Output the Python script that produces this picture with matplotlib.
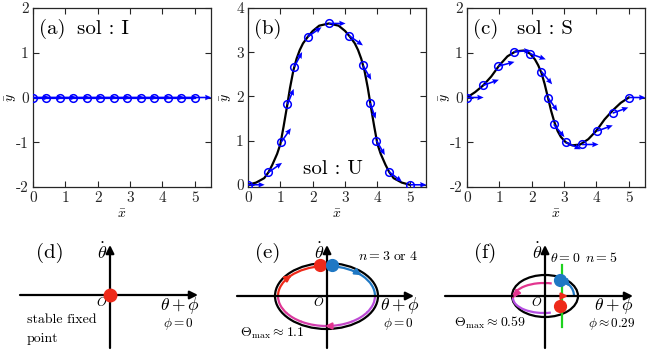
import numpy as np
import matplotlib
matplotlib.use("Agg")
import matplotlib.pyplot as plt
from matplotlib.patches import Ellipse, Arc
from matplotlib.colors import LinearSegmentedColormap
from matplotlib.ticker import FuncFormatter

plt.rcParams['mathtext.fontset'] = 'cm'
plt.rcParams['font.family'] = ['cmr10', 'DejaVu Serif']
plt.rcParams['axes.formatter.use_mathtext'] = True

# ---- data ----
# (a) sol I : straight rod
xa = [0, 0.417, 0.833, 1.25, 1.667, 2.083, 2.5, 2.917, 3.333, 3.75, 4.167, 4.583, 5.0]
ya = [0] * 13
ang_a = [0] * 13

# (b) sol U
xb_curve = [0, 0.25, 0.5, 0.63, 0.75, 0.9, 1.0, 1.1, 1.2, 1.3, 1.4, 1.5, 1.6, 1.7, 1.85, 2.0, 2.2, 2.5,
            2.8, 3.0, 3.15, 3.3, 3.4, 3.5, 3.6, 3.7, 3.8, 3.9, 4.0, 4.1, 4.25, 4.37, 4.5, 4.75, 5.0]
yb_curve = [0, 0.05, 0.15, 0.28, 0.45, 0.7, 0.92, 1.32, 1.75, 2.2, 2.58, 2.85, 3.05, 3.2, 3.35, 3.48, 3.6, 3.65,
            3.6, 3.48, 3.35, 3.2, 3.05, 2.85, 2.58, 2.2, 1.75, 1.32, 0.92, 0.7, 0.45, 0.28, 0.15, 0.05, 0]
xb = [0, 0.63, 1.03, 1.22, 1.43, 1.85, 2.5, 3.13, 3.55, 3.77, 3.97, 4.35, 5.0]
yb = [0, 0.28, 0.97, 1.82, 2.67, 3.35, 3.65, 3.37, 2.7, 1.85, 1.0, 0.3, 0.0]
ang_b = [0, 35, 55, 68, 62, 35, 0, -35, -60, -70, -60, -38, 0]

# (c) sol S
xc_curve = [0, 0.25, 0.5, 0.75, 1.0, 1.25, 1.5, 1.75, 1.95, 2.1, 2.2, 2.3, 2.4, 2.5,
            2.6, 2.7, 2.8, 2.9, 3.05, 3.25, 3.5, 3.75, 4.0, 4.25, 4.5, 4.75, 5.0]
yc_curve = [0, 0.12, 0.27, 0.47, 0.72, 0.92, 1.03, 1.05, 0.98, 0.85, 0.72, 0.55, 0.3, 0.0,
            -0.3, -0.55, -0.75, -0.88, -1.0, -1.07, -1.05, -0.93, -0.74, -0.49, -0.29, -0.12, 0]
xc = [0, 0.5, 0.97, 1.45, 1.95, 2.3, 2.5, 2.68, 3.05, 3.55, 4.02, 4.5, 5.0]
yc = [0, 0.27, 0.7, 1.02, 0.98, 0.58, 0.0, -0.6, -1.0, -1.05, -0.75, -0.35, 0.0]
ang_c = [0, 20, 15, 5, -20, -50, -55, -50, -25, 0, 20, 20, 0]

panels = [
    dict(x=xa, y=ya, ang=ang_a, cx=None, cy=None, ylim=(-2, 2), yt=[-2, -1, 0, 1, 2],
         tag='(a)', sol='sol : I', spos=(0.245, 0.885), left=33),
    dict(x=xb, y=yb, ang=ang_b, cx=xb_curve, cy=yb_curve, ylim=(-0.05, 4), yt=[0, 1, 2, 3, 4],
         tag='(b)', sol='sol : U', spos=(0.31, 0.1), left=248),
    dict(x=xc, y=yc, ang=ang_c, cx=xc_curve, cy=yc_curve, ylim=(-2, 2), yt=[-2, -1, 0, 1, 2],
         tag='(c)', sol='sol : S', spos=(0.28, 0.885), left=467),
]

W, H = 648, 351
fig = plt.figure(figsize=(W / 100, H / 100), dpi=100)
fmt = FuncFormatter(lambda v, p: '%g' % v)
blue = '#0000ff'

for p in panels:
    ax = fig.add_axes([p['left'] / W, 1 - 187 / H, 178 / W, 179 / H])
    if p['cx'] is not None:
        ax.plot(p['cx'], p['cy'], color='k', lw=1.6, zorder=2)
    else:
        ax.plot(p['x'], p['y'], color=blue, lw=1.6, zorder=2)
    n = len(p['x'])
    ax.quiver(p['x'], p['y'], np.ones(n), np.zeros(n), angles=np.array(p['ang']),
              scale_units='inches', scale=6.0, units='dots', width=1.6,
              headwidth=3.5, headlength=4, headaxislength=3.6, color=blue, zorder=3)
    ax.plot(p['x'], p['y'], 'o', mfc='none', mec=blue, ms=5.5, mew=1.1, zorder=4)
    ax.set_xlim(0, 5.5)
    ax.set_ylim(*p['ylim'])
    ax.set_xticks([0, 1, 2, 3, 4, 5])
    ax.set_yticks(p['yt'])
    ax.xaxis.set_major_formatter(fmt)
    ax.yaxis.set_major_formatter(fmt)
    ax.tick_params(direction='in', top=True, right=True, length=4, width=0.8,
                   labelsize=11, pad=3, colors='#262626')
    for s in ax.spines.values():
        s.set_linewidth(0.9)
        s.set_color('#262626')
    ax.set_xlabel(r'$\bar{x}$', fontsize=10, labelpad=3)
    ax.set_ylabel(r'$\bar{y}$', fontsize=10)
    ax.yaxis.set_label_coords(-14 / 178, 0.5)
    ax.text(0.035, 0.885, p['tag'], transform=ax.transAxes, fontsize=15, va='center')
    ax.text(p['spos'][0], p['spos'][1], p['sol'], transform=ax.transAxes, fontsize=15, va='center')

# ---- bottom row: phase portraits, in pixel units (y measured up from bottom) ----
bx = fig.add_axes([0, 0, 1, 146 / H])
bx.set_xlim(0, W)
bx.set_ylim(0, 146)
bx.axis('off')

red = '#ee2a1a'
cblue = '#1f78c4'
purple = '#b54fe2'
magenta = '#e3358f'
green = '#1ed21e'


def arrow(p1, p2, c='k', lw=1.6, ms=12):
    bx.annotate('', xy=p2, xytext=p1,
                arrowprops=dict(arrowstyle='-|>', color=c, lw=lw, mutation_scale=ms,
                                shrinkA=0, shrinkB=0))


def axes_cross(ox, oy, xl, xr):
    arrow((ox + xl, oy), (ox + xr, oy))
    arrow((ox, 3), (ox, 106))


def labels(ox, tag, tagx, phi, phix):
    bx.text(tagx, 98, tag, fontsize=15, ha='center', va='center')
    bx.text(ox - 8, 99, r'$\dot{\theta}$', fontsize=13, ha='center', va='center')
    bx.text(ox - 8, 49, r'$O$', fontsize=9, ha='center', va='center')
    bx.text(phix, 46, r'$\theta+\phi$', fontsize=12.5, ha='center', va='center')
    bx.text(phix - 2, 27, phi, fontsize=9.5, ha='center', va='center')


# (d)
ox_d, oy_d = 110, 56
axes_cross(ox_d, oy_d, -90, 88)
bx.plot([ox_d], [oy_d], 'o', color=red, ms=9, zorder=5)
labels(ox_d, '(d)', 50, r'$\phi=0$', 180)
bx.text(27, 31, 'stable fixed', fontsize=10, va='center')
bx.text(27, 12, 'point', fontsize=10, va='center')

# (e) closed orbit
ox_e, oy_e = 327, 55
axes_cross(ox_e, oy_e, -90, 87)
bx.add_patch(Ellipse((326.5, oy_e), 103, 66, fill=False, ec='k', lw=1.6))
a_e, b_e = 48.5, 30
bx.add_patch(Arc((326.5, oy_e), 2 * a_e, 2 * b_e, theta1=0, theta2=82, color=cblue, lw=1.6))
bx.add_patch(Arc((326.5, oy_e), 2 * a_e, 2 * b_e, theta1=98, theta2=180, color=red, lw=1.6))
grad = LinearSegmentedColormap.from_list('g', [magenta, purple])
nseg = 8
for i in range(nseg):
    t1 = 180 + 180 * i / nseg
    bx.add_patch(Arc((326.5, oy_e), 2 * a_e, 2 * b_e, theta1=t1, theta2=t1 + 180 / nseg + 1,
                     color=grad((i + 0.5) / nseg), lw=1.6))
t = np.radians([140, 136])
arrow((326.5 + a_e * np.cos(t[0]), oy_e + b_e * np.sin(t[0])),
      (326.5 + a_e * np.cos(t[1]), oy_e + b_e * np.sin(t[1])), c=red, ms=9)
t = np.radians([48, 44])
arrow((326.5 + a_e * np.cos(t[0]), oy_e + b_e * np.sin(t[0])),
      (326.5 + a_e * np.cos(t[1]), oy_e + b_e * np.sin(t[1])), c=cblue, ms=9)
arrow((330, oy_e - b_e), (325, oy_e - b_e), c=magenta, ms=9)
bx.plot([320], [oy_e + b_e + 1], 'o', color=red, ms=8.5, zorder=5)
bx.plot([331.5], [oy_e + b_e + 1], 'o', color=cblue, ms=8.5, zorder=5)
labels(ox_e, '(e)', 268, r'$\phi=0$', 400)
bx.text(388, 95, r'$n=3\ \mathrm{or}\ 4$', fontsize=10, ha='center', va='center')
bx.text(240, 18, r'$\Theta_{\max}\approx 1.1$', fontsize=10, va='center')

# (f) orbit with jump at theta = 0
ox_f, oy_f = 545, 55
axes_cross(ox_f, oy_f, -100, 88)
bx.add_patch(Ellipse((ox_f, oy_f), 66, 42, fill=False, ec='k', lw=1.6))
bx.plot([562, 562], [24, 86], color=green, lw=1.6, zorder=3)
cf = (544, 53)
bx.add_patch(Arc(cf, 62, 30, theta1=62, theta2=180, color=magenta, lw=1.6))
bx.add_patch(Arc(cf, 62, 30, theta1=180, theta2=295, color=purple, lw=1.6))
arrow((515, 55.5), (513.5, 53.5), c=magenta, ms=9)
bx.add_patch(Arc((559, 55), 30, 30, theta1=0, theta2=88, color=cblue, lw=1.6))
arrow((567.5, 67.5), (570, 64.5), c=cblue, ms=9)
bx.plot([560, 561, 563], [45, 52, 55], color=red, lw=1.6)
arrow((563, 55), (568, 55), c=red, ms=9)
bx.plot([560], [71], 'o', color=cblue, ms=8.5, zorder=5)
bx.plot([560], [45], 'o', color=red, ms=8.5, zorder=5)
labels(ox_f, '(f)', 485, r'$\phi\approx 0.29$', 614)
bx.text(565, 93, r'$\theta=0$', fontsize=10, ha='center', va='center')
bx.text(601, 93, r'$n=5$', fontsize=10, ha='center', va='center')
bx.text(490, 28, r'$\Theta_{\max}\approx 0.59$', fontsize=10, ha='center', va='center')

fig.savefig('out.png', dpi=100)
